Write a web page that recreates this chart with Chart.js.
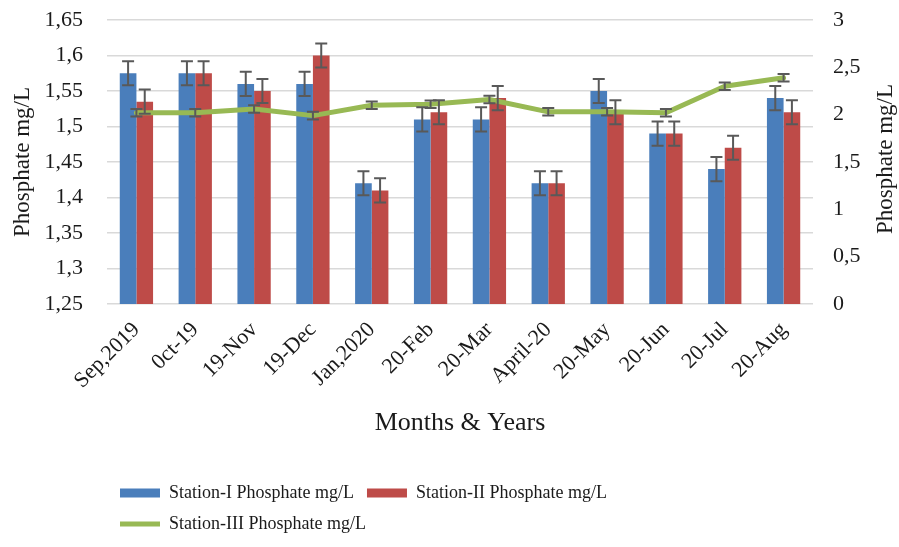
<!DOCTYPE html>
<html>
<head>
<meta charset="utf-8">
<script src="https://cdn.jsdelivr.net/npm/chart.js@4/dist/chart.umd.min.js"></script>
<style>
  html, body { margin: 0; padding: 0; background: #ffffff; }
  #wrap { width: 899px; height: 547px; position: relative; }
</style>
</head>
<body>
<div id="wrap"><canvas id="c" width="899" height="547"></canvas></div>
<script>
// ---- data ----
const categories = ['Sep,2019', '0ct-19', '19-Nov', '19-Dec', 'Jan,2020', '20-Feb', '20-Mar', 'April-20', '20-May', '20-Jun', '20-Jul', '20-Aug'];
const station1 = [1.575, 1.575, 1.56, 1.56, 1.42, 1.51, 1.51, 1.42, 1.55, 1.49, 1.44, 1.54];
const station2 = [1.535, 1.575, 1.55, 1.60, 1.41, 1.52, 1.54, 1.42, 1.52, 1.49, 1.47, 1.52];
const station3 = [2.02, 2.02, 2.06, 1.99, 2.10, 2.11, 2.16, 2.03, 2.03, 2.02, 2.30, 2.39];
const station1Err = [0.017, 0.017, 0.017, 0.017, 0.017, 0.017, 0.017, 0.017, 0.017, 0.017, 0.017, 0.017];
const station2Err = [0.017, 0.017, 0.017, 0.017, 0.017, 0.017, 0.017, 0.017, 0.017, 0.017, 0.017, 0.017];
const station3Err = [0.04, 0.04, 0.04, 0.04, 0.04, 0.04, 0.04, 0.04, 0.04, 0.04, 0.04, 0.04];
const leftTicks = [1.25, 1.3, 1.35, 1.4, 1.45, 1.5, 1.55, 1.6, 1.65];
const leftTickLabels = ['1,25', '1,3', '1,35', '1,4', '1,45', '1,5', '1,55', '1,6', '1,65'];
const rightTicks = [0, 0.5, 1, 1.5, 2, 2.5, 3];
const rightTickLabels = ['0', '0,5', '1', '1,5', '2', '2,5', '3'];
const seriesNames = ['Station-I Phosphate mg/L', 'Station-II Phosphate mg/L', 'Station-III Phosphate mg/L'];
const yTitle = 'Phosphate mg/L';
const xTitle = 'Months & Years';

const FONT = "'Liberation Serif', 'Times New Roman', serif";
const TXT = '#1a1a1a';

const errorBars = {
  id: 'errorBars',
  afterDatasetsDraw(chart) {
    const ctx = chart.ctx;
    ctx.save();
    ctx.strokeStyle = '#595959';
    ctx.lineWidth = 2;
    chart.data.datasets.forEach((ds, i) => {
      const meta = chart.getDatasetMeta(i);
      if (!ds.errors || meta.hidden) return;
      const scale = chart.scales[ds.yAxisID || 'y'];
      meta.data.forEach((el, j) => {
        const v = ds.data[j], e = ds.errors[j];
        const yTop = scale.getPixelForValue(v + e);
        const yBot = scale.getPixelForValue(v - e);
        const x = el.x;
        const cap = 6;
        ctx.beginPath();
        ctx.moveTo(x, yTop); ctx.lineTo(x, yBot);
        ctx.moveTo(x - cap, yTop); ctx.lineTo(x + cap, yTop);
        ctx.moveTo(x - cap, yBot); ctx.lineTo(x + cap, yBot);
        ctx.stroke();
      });
    });
    ctx.restore();
  }
};

const rightTitle = {
  id: 'rightTitle',
  afterDraw(chart) {
    const ctx = chart.ctx;
    ctx.save();
    ctx.translate(886, (chart.chartArea.top + chart.chartArea.bottom) / 2 - 3);
    ctx.rotate(-Math.PI / 2);
    ctx.font = '23px ' + FONT;
    ctx.fillStyle = TXT;
    ctx.textAlign = 'center';
    ctx.textBaseline = 'middle';
    ctx.fillText(yTitle, 0, 0);
    ctx.restore();
  }
};

new Chart(document.getElementById('c'), {
  data: {
    labels: categories,
    datasets: [
      {
        type: 'bar', label: seriesNames[0], data: station1, errors: station1Err,
        backgroundColor: '#4A7EBB', yAxisID: 'y', order: 2,
        barPercentage: 1.0, categoryPercentage: 0.566
      },
      {
        type: 'bar', label: seriesNames[1], data: station2, errors: station2Err,
        backgroundColor: '#BE4B48', yAxisID: 'y', order: 2,
        barPercentage: 1.0, categoryPercentage: 0.566
      },
      {
        type: 'line', label: seriesNames[2], data: station3, errors: station3Err,
        borderColor: '#98B954', backgroundColor: '#98B954', borderWidth: 5,
        pointRadius: 0, tension: 0, yAxisID: 'y2', order: 1,
        borderJoinStyle: 'round', borderCapStyle: 'round'
      }
    ]
  },
  options: {
    responsive: false,
    animation: false,
    devicePixelRatio: 1,
    layout: { padding: { top: 20, left: 0, right: 0, bottom: 4 } },
    plugins: {
      tooltip: { enabled: false },
      legend: {
        position: 'bottom',
        align: 'start',
        fullSize: false,
        labels: {
          font: { family: FONT, size: 18 },
          color: TXT,
          padding: 13,
          boxWidth: 40,
          boxHeight: 9,
          usePointStyle: true,
          pointStyleWidth: 40,
          generateLabels(chart) {
            return chart.data.datasets.map((ds, i) => ({
              text: ds.label,
              fillStyle: ds.backgroundColor,
              strokeStyle: ds.type === 'line' ? ds.borderColor : ds.backgroundColor,
              lineWidth: ds.type === 'line' ? 5 : 0,
              pointStyle: ds.type === 'line' ? 'line' : 'rect',
              fontColor: TXT,
              datasetIndex: i,
              hidden: false
            }));
          }
        }
      }
    },
    scales: {
      x: {
        grid: { display: false, drawTicks: false },
        border: { display: false },
        ticks: {
          font: { family: FONT, size: 22 }, color: TXT,
          minRotation: 45, maxRotation: 45, padding: 13, autoSkip: false
        },
        title: {
          display: true, text: xTitle, color: TXT,
          font: { family: FONT, size: 26 }, padding: { top: 0, bottom: 32 }
        },
        afterFit(scale) { scale.height = 167; }
      },
      y: {
        position: 'left',
        min: 1.25, max: 1.65,
        grid: { color: '#D9D9D9', lineWidth: 1.5, drawTicks: false },
        border: { display: false },
        afterBuildTicks(scale) { scale.ticks = leftTicks.map(v => ({ value: v })); },
        ticks: {
          font: { family: FONT, size: 22 }, color: TXT, padding: 24,
          callback(v) { const k = leftTicks.findIndex(t => Math.abs(t - v) < 1e-9); return k >= 0 ? leftTickLabels[k] : ''; }
        },
        title: {
          display: true, text: yTitle, color: TXT,
          font: { family: FONT, size: 23 }, padding: { top: 9, bottom: 0 }
        },
        afterFit(scale) { scale.width = 107; scale.paddingTop = 0; scale.paddingBottom = 0; }
      },
      y2: {
        position: 'right',
        min: 0, max: 3,
        grid: { display: false, drawTicks: false },
        border: { display: false },
        afterBuildTicks(scale) { scale.ticks = rightTicks.map(v => ({ value: v })); },
        ticks: {
          font: { family: FONT, size: 22 }, color: TXT, padding: 20,
          callback(v) { const k = rightTicks.findIndex(t => Math.abs(t - v) < 1e-9); return k >= 0 ? rightTickLabels[k] : ''; }
        },
        afterFit(scale) { scale.width = 86; scale.paddingTop = 0; scale.paddingBottom = 0; }
      }
    }
  },
  plugins: [errorBars, rightTitle]
});
</script>
</body>
</html>
